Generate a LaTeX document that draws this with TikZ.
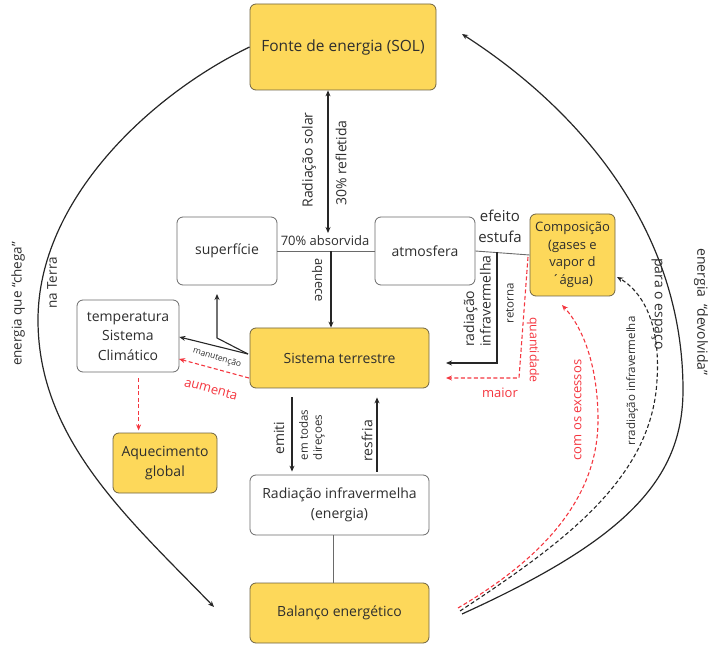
\documentclass[tikz,border=0pt]{standalone}
\usepackage{fontspec}
\setmainfont{Open Sans}
\usetikzlibrary{arrows.meta,calc}
\definecolor{yfill}{HTML}{FDD85A}
\definecolor{yline}{HTML}{6E6342}
\definecolor{wline}{HTML}{6A6A6A}
\definecolor{txt}{HTML}{2E2E2E}
\definecolor{redl}{HTML}{F4363F}
\newcommand\szSol{\fontsize{15.5}{19}\selectfont}
\newcommand\szBox{\fontsize{14}{19.5}\selectfont}
\newcommand\szCmp{\fontsize{13}{17.5}\selectfont}
\newcommand\szLbl{\fontsize{13}{15.5}\selectfont}
\newcommand\szMid{\fontsize{14}{16.5}\selectfont}
\newcommand\szBig{\fontsize{15}{21}\selectfont}
\newcommand\szSml{\fontsize{11.5}{14}\selectfont}
\newcommand\szTny{\fontsize{8.5}{10}\selectfont}
\begin{document}
\begin{tikzpicture}[x=1pt,y=-1pt,
 box/.style={rounded corners=6pt, line width=0.8pt, align=center, inner sep=0pt, text=txt, font=\szBox},
 ybox/.style={box, draw=yline, fill=yfill},
 wbox/.style={box, draw=wline, fill=white},
 headtip/.style={-{Stealth[length=6pt,width=5pt]}},
 arrln/.style={headtip, line width=1.3pt, draw=black!85},
 thinln/.style={line width=0.9pt, draw=wline},
 redarr/.style={headtip, line width=1.1pt, draw=redl, dash pattern=on 4pt off 2.5pt},
 blkdash/.style={headtip, line width=1.1pt, draw=black!85, dash pattern=on 4pt off 2.5pt},
 lbl/.style={inner sep=0pt, text=txt, font=\szLbl},
 rlbl/.style={inner sep=0pt, text=redl, font=\szLbl}]
\useasboundingbox (0,0) rectangle (713,647);

% boxes
\node[ybox, font=\szSol, minimum width=186pt, minimum height=86pt] (sol) at (343,47) {Fonte de energia (SOL)};
\node[wbox, minimum width=100pt, minimum height=68pt] (sup) at (227,251) {superfície};
\node[wbox, minimum width=100pt, minimum height=68pt] (atm) at (425,251) {atmosfera};
\node[ybox, font=\szCmp, minimum width=85pt, minimum height=82pt] (comp) at (572.5,255) {Composição\\(gases e\\vapor d\\´água)};
\node[wbox, minimum width=102pt, minimum height=72pt] (temp) at (128,336) {temperatura\\Sistema\\Climático};
\node[ybox, minimum width=179pt, minimum height=60pt] (st) at (339.5,358) {Sistema terrestre};
\node[ybox, minimum width=104pt, minimum height=60pt] (aq) at (165,463) {Aquecimento\\global};
\node[wbox, minimum width=179pt, minimum height=60pt] (rad) at (339.5,505) {Radiação infravermelha\\(energia)};
\node[ybox, minimum width=179pt, minimum height=60pt] (bal) at (339.5,613) {Balanço energético};

% coordinates
\coordinate (ax) at (328,233);
\coordinate (aqs) at (331,251);
\coordinate (ret) at (497,252);
\coordinate (retc) at (497,363);
\coordinate (rete) at (446,363);
\coordinate (qa) at (528,257);
\coordinate (qb) at (519,378);
\coordinate (qc) at (446,378);
\coordinate (stm) at (248,354);
\coordinate (jn) at (217,338);
\coordinate (supb) at (217,294);
\coordinate (sta) at (249,378);
\coordinate (tpa) at (179,359);
\coordinate (lend) at (214,607);
\coordinate (rs1) at (462,614);
\coordinate (rs2) at (460,611);
\coordinate (rs3) at (458,608);
\coordinate (sret) at (462,34);
\coordinate (dtip) at (617,277);
\coordinate (rtip) at (562,305);

% solar radiation
\node[lbl] (abs) at (325,241) {70\% absorvida};
\draw[line width=1.3pt, draw=black!85, {Stealth[length=6pt,width=5pt]}-{Stealth[length=6pt,width=5pt]}] (sol.south -| ax) -- (ax);
\node[lbl, font=\szMid, rotate=90] at (309,160) {Radiação solar};
\node[lbl, font=\szMid, rotate=90] at (341,163) {30\% refletida};
\draw[thinln] (sup.east) -- (atm.west);
\draw[arrln] (aqs) -- (aqs |- st.north);
\node[lbl, rotate=-90] at (317,280) {aquece};

% atmosphere - composition
\draw[thinln] (atm.east) -- (comp.west);
\node[lbl, font=\szBig, align=center] at (500,226) {efeito\\estufa};
\draw[arrln, line width=1.1pt] (ret) -- (retc) -- (rete);
\node[lbl, font=\szMid, align=left, rotate=90] at (477,301) {radiação\\infravermelha};
\node[lbl, font=\szSml, rotate=90] at (510,303) {retorna};
\draw[redarr] (qa) -- (qb) -- (qc);
\node[rlbl, font=\fontsize{12.3}{14}\selectfont, rotate=-90] at (533,350) {quantidade};
\node[rlbl] at (500,393) {maior};

% sistema terrestre -> temperatura / superficie
\draw[arrln, line width=1.1pt] (stm) -- (temp.east |- 0,337);
\draw[arrln, line width=1.1pt] (stm) -- (jn) -- (supb);
\node[lbl, font=\szTny, rotate=-17] at (217,358) {manutenção};
\draw[redarr] (sta) -- (tpa);
\node[rlbl, rotate=-15] at (211,389) {aumenta};
\draw[redarr] (temp.south -| aq.north west) ++(26,6) -- ++(0,52);

% emission
\draw[arrln] ($(st.south)+(-47.5,9)$) -- ($(rad.north)+(-47.5,-3)$);
\node[lbl, font=\szMid, rotate=90] at (279,438) {emiti};
\node[lbl, font=\szSml, align=left, rotate=90] at (312,435) {em todas\\direçoes};
\draw[arrln] ($(rad.north)+(37.5,-3)$) -- ($(st.south)+(37.5,9)$);
\node[lbl, font=\szMid, rotate=90] at (367,441) {resfria};
\draw[thinln] ($(rad.south)+(-6.5,0)$) -- ($(bal.north)+(-6.5,0)$);

% big curves
\draw[arrln, line width=1.2pt] (sol.west) .. controls (150,95) and (38,200) .. (38,320) .. controls (38,440) and (130,520) .. (lend);
\node[lbl, font=\fontsize{13.5}{16}\selectfont, rotate=90] at (18,304) {energia que “chega”};
\node[lbl, font=\fontsize{13.5}{16}\selectfont, rotate=90] at (52,283) {na Terra};

\draw[arrln, line width=1.2pt] (rs1) .. controls (625,540) and (683,480) .. (683,390) .. controls (683,230) and (580,110) .. (sret);
\node[lbl, font=\szMid, rotate=-90] at (701,312) {energia \ “devolvida”};
\node[lbl, font=\szMid, rotate=-90] at (657,304) {para o espaço};

\draw[blkdash] (rs2) .. controls (560,545) and (652,480) .. (657,380) .. controls (661,320) and (640,290) .. (dtip);
\node[lbl, font=\szSml, rotate=90] at (632,381) {rradiação infravermelha};

\draw[redarr] (rs3) .. controls (540,560) and (598,500) .. (598,420) .. controls (598,370) and (585,330) .. (rtip);
\node[rlbl, rotate=90] at (578,410) {com os excessos};
\end{tikzpicture}
\end{document}
